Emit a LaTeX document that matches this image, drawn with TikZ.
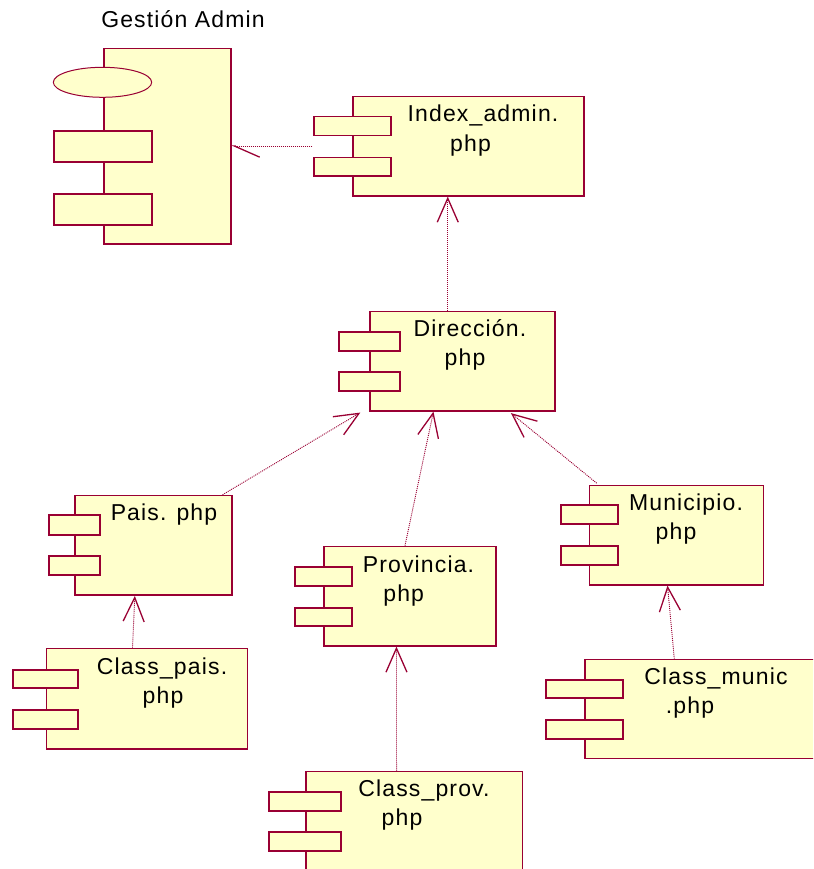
\documentclass[tikz,border=0pt]{standalone}
\usepackage{fontspec}
\setmainfont{Liberation Sans}[LetterSpace=5]
\usetikzlibrary{arrows.meta,shapes.geometric}
\definecolor{umlred}{RGB}{153,0,51}
\definecolor{umlfill}{RGB}{255,255,204}
\tikzset{
  body/.style={draw=umlred, fill=umlfill, line width=1.6pt, inner sep=0pt, anchor=north west},
  tabbox/.style={draw=umlred, fill=umlfill, line width=1.8pt, inner sep=0pt, anchor=north west},
  lbl/.style={anchor=base, inner sep=0pt, font=\fontsize{23}{27}\selectfont},
  dep/.style={draw=umlred, line width=0.9pt, dash pattern=on 1pt off 1pt,
    -{Straight Barb[length=24pt,width=21pt,line width=1.3pt]}},
  halfdep/.style={draw=umlred, line width=0.9pt, dash pattern=on 1pt off 1pt,
    -{Straight Barb[harpoon,length=25pt,width=22pt,line width=1.3pt]}}
}
% component: name, x, y, width, height
\newcommand\umlcomp[5]{\node[body, minimum width=#4pt, minimum height=#5pt] (#1) at (#2,#3) {};}
% interface tab: name, x, y, width, height
\newcommand\umltab[5]{\node[tabbox, minimum width=#4pt, minimum height=#5pt] (#1) at (#2,#3) {};}
\begin{document}
\begin{tikzpicture}[x=1pt, y=-1pt]
\useasboundingbox (0,0) rectangle (813,869);
\clip (0,0) rectangle (813,869);

% package "Gestion Admin"
\node[lbl] (gest-title) at (183,28) {Gestión Admin};
\umlcomp{gest}{103}{47.7}{127}{195.3}
\node[draw=umlred, fill=umlfill, line width=1pt, ellipse, inner sep=0pt,
      minimum width=98.4pt, minimum height=30pt] (gest-e) at (102.5,82.3) {};
\umltab{gest-a}{53.3}{130.3}{98}{31}
\umltab{gest-b}{53.3}{193.3}{98}{30.7}

% Index_admin.php
\umlcomp{idx}{352.3}{95.7}{231}{99.3}
\umltab{idx-a}{313.3}{115.7}{76.7}{19}
\umltab{idx-b}{313.3}{156.7}{76.7}{18.3}
\node[lbl] (idx-l1) at (483,122) {Index\_admin.};
\node[lbl] (idx-l2) at (470.5,152) {php};

% Direccion.php
\umlcomp{dir}{369.3}{310.7}{184.7}{99.3}
\umltab{dir-a}{338.3}{330.7}{61}{19.3}
\umltab{dir-b}{338.3}{370.7}{61}{19.3}
\node[lbl] (dir-l1) at (470,336.7) {Dirección.};
\node[lbl] (dir-l2) at (465,365.7) {php};

% Pais.php
\umlcomp{pais}{74}{494.7}{157}{99.6}
\umltab{pais-a}{47.7}{514.3}{51.6}{19.7}
\umltab{pais-b}{47.7}{555.3}{51.6}{19}
\node[lbl] (pais-l1) at (164,520.7) {Pais. php};

% Class_pais.php
\umlcomp{cpais}{45.7}{647.7}{201}{100.6}
\umltab{cpais-a}{11.7}{668.7}{65.6}{18.6}
\umltab{cpais-b}{11.7}{708.7}{65.6}{19.6}
\node[lbl] (cpais-l1) at (162,674) {Class\_pais.};
\node[lbl] (cpais-l2) at (163,703) {php};

% Provincia.php
\umlcomp{prov}{323.3}{545.7}{171.7}{99.3}
\umltab{prov-a}{294.3}{565.7}{56.7}{19.3}
\umltab{prov-b}{294.3}{606.7}{56.7}{18.3}
\node[lbl] (prov-l1) at (418.5,572.3) {Provincia.};
\node[lbl] (prov-l2) at (403.7,601) {php};

% Class_prov.php
\umlcomp{cprov}{305}{770.7}{216.7}{120}
\umltab{cprov-a}{268.3}{790.7}{72}{19.3}
\umltab{cprov-b}{268.3}{831.3}{72}{18.7}
\node[lbl] (cprov-l1) at (424,796.7) {Class\_prov.};
\node[lbl] (cprov-l2) at (402,825) {php};

% Municipio.php
\umlcomp{mun}{588.7}{484.7}{174}{99.3}
\umltab{mun-a}{559.7}{504.3}{57.6}{19}
\umltab{mun-b}{559.7}{545}{57.6}{19}
\node[lbl] (mun-l1) at (686,510.7) {Municipio.};
\node[lbl] (mun-l2) at (676,539) {php};

% Class_munic.php
\umlcomp{cmun}{584.3}{658.7}{240}{99}
\umltab{cmun-a}{544.7}{679}{77.3}{18.3}
\umltab{cmun-b}{544.7}{718.7}{77.3}{19}
\node[lbl] (cmun-l1) at (716,684) {Class\_munic};
\node[lbl] (cmun-l2) at (690,713) {.php};

% dependencies
\draw[halfdep] ([xshift=-40pt]idx.west) -- (gest.east);
\draw[dep] ([xshift=-14.7pt]dir.north) -- ([xshift=-14.7pt]dir.north |- idx.south);
\draw[dep] ([xshift=-10pt]pais.north east) -- ([xshift=-9pt,yshift=-1pt]dir.south west);
\draw[dep] ([xshift=-5pt]prov.north) -- ([xshift=-29pt]dir.south);
\draw[dep] ([xshift=8pt,yshift=1.5pt]mun.north west) -- ([xshift=-44.7pt,yshift=-1.5pt]dir.south east);
\draw[dep] ([xshift=-14.5pt]cpais.north) -- ([xshift=-18.5pt]pais.south);
\draw[dep] ([xshift=-17.6pt]cprov.north) -- ([xshift=-13.5pt]prov.south);
\draw[dep] ([xshift=90pt]cmun.north west) -- ([xshift=-9pt]mun.south);
\end{tikzpicture}
\end{document}
